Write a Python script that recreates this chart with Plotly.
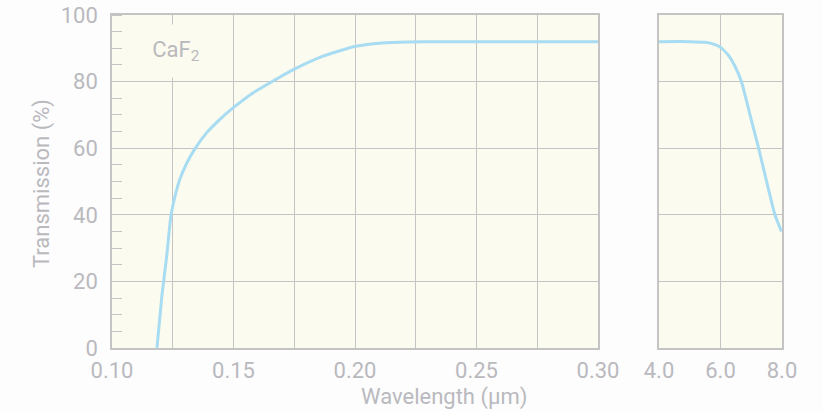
import plotly.graph_objects as go

# UV edge of CaF2 transmission (wavelength in µm, transmission in %)
uv_wavelength = [0.1185, 0.1205, 0.1225, 0.1242, 0.1259, 0.1280, 0.1307, 0.1341,
                 0.1389, 0.1443, 0.1498, 0.1580, 0.1661, 0.1746, 0.1866, 0.2003,
                 0.2111, 0.2220, 0.2350, 0.2600, 0.3000]
uv_transmission = [0, 15.5, 27.5, 39.5, 45.5, 50.8, 55.4, 59.8,
                   64.6, 68.6, 72.1, 76.6, 80.1, 83.6, 87.6, 90.6,
                   91.6, 91.9, 92, 92, 92]

# IR edge of CaF2 transmission
ir_wavelength = [4.0, 5.0, 5.5, 5.8, 6.0, 6.25, 6.45, 6.68, 7.0, 7.24, 7.5, 7.77, 7.98]
ir_transmission = [92, 92, 91.8, 91.2, 90.3, 88, 85, 80, 68.6, 60, 50, 40, 35]

y_ticks = [0, 20, 40, 60, 80, 100]
uv_ticks = [0.10, 0.15, 0.20, 0.25, 0.30]
uv_tick_text = ["0.10", "0.15", "0.20", "0.25", "0.30"]
ir_ticks = [4.0, 6.0, 8.0]
ir_tick_text = ["4.0", "6.0", "8.0"]

W, H = 823, 411
TEXT = "#b9b9be"
GRID = "#c4c4c4"
PLOT_BG = "#fcfbef"
LINE = "#a8dcf2"
FONT = "Roboto"

fig = go.Figure()
fig.add_trace(go.Scatter(x=uv_wavelength, y=uv_transmission, mode="lines",
                         line=dict(color=LINE, width=3, shape="spline", smoothing=0.5),
                         xaxis="x", yaxis="y", showlegend=False, hoverinfo="skip"))
fig.add_trace(go.Scatter(x=ir_wavelength, y=ir_transmission, mode="lines",
                         line=dict(color=LINE, width=3, shape="spline", smoothing=0.4),
                         xaxis="x2", yaxis="y2", showlegend=False, hoverinfo="skip"))

y_top = (H - 15) / H
y_bot = (H - 348) / H

common_axis = dict(showline=True, mirror=True, linecolor=GRID, linewidth=1.5,
                   gridcolor=GRID, gridwidth=1.3, zeroline=False, automargin=False,
                   tickfont=dict(family=FONT, size=22, color=TEXT))

fig.update_layout(
    width=W, height=H,
    margin=dict(l=0, r=0, t=0, b=0),
    paper_bgcolor="#fdfdfd",
    plot_bgcolor=PLOT_BG,
    xaxis=dict(domain=[112 / W, 598 / W], range=[0.10, 0.30],
               tickvals=uv_ticks, ticktext=uv_tick_text, ticks="",
               ticklabelstandoff=2,
               minor=dict(dtick=0.025, tick0=0.10, showgrid=True,
                          gridcolor=GRID, gridwidth=1.3),
               anchor="y", **common_axis),
    yaxis=dict(domain=[y_bot, y_top], range=[0, 100], tickvals=y_ticks,
               ticks="", anchor="x", ticklabelstandoff=8,
               minor=dict(dtick=5, tick0=0, ticks="inside", ticklen=10,
                          tickcolor=GRID, tickwidth=1.3, showgrid=False),
               **common_axis),
    xaxis2=dict(domain=[659 / W, 782 / W], range=[4.0, 8.0],
                tickvals=ir_ticks, ticktext=ir_tick_text, ticks="",
                ticklabelstandoff=2,
                anchor="y2", **common_axis),
    yaxis2=dict(domain=[y_bot, y_top], range=[0, 100], tickvals=y_ticks,
                showticklabels=False, ticks="", anchor="x2", automargin=False,
                showline=True, mirror=True, linecolor=GRID, linewidth=1.5,
                gridcolor=GRID, gridwidth=1.3, zeroline=False),
    annotations=[
        dict(text="CaF<sub>2</sub>", x=176 / W, y=(H - 51) / H,
             xref="paper", yref="paper", showarrow=False,
             xanchor="center", yanchor="middle",
             width=58, height=42, borderpad=5, align="center", valign="middle",
             bgcolor=PLOT_BG,
             font=dict(family=FONT, size=22, color=TEXT)),
        dict(text="Wavelength (µm)", x=444 / W, y=(H - 397) / H,
             xref="paper", yref="paper", showarrow=False,
             xanchor="center", yanchor="middle",
             font=dict(family=FONT, size=22, color=TEXT)),
        dict(text="Transmission (%)", x=42 / W, y=(H - 184) / H,
             xref="paper", yref="paper", showarrow=False, textangle=-90,
             xanchor="center", yanchor="middle",
             font=dict(family=FONT, size=22, color=TEXT)),
    ],
)

fig.write_html("out.html")
